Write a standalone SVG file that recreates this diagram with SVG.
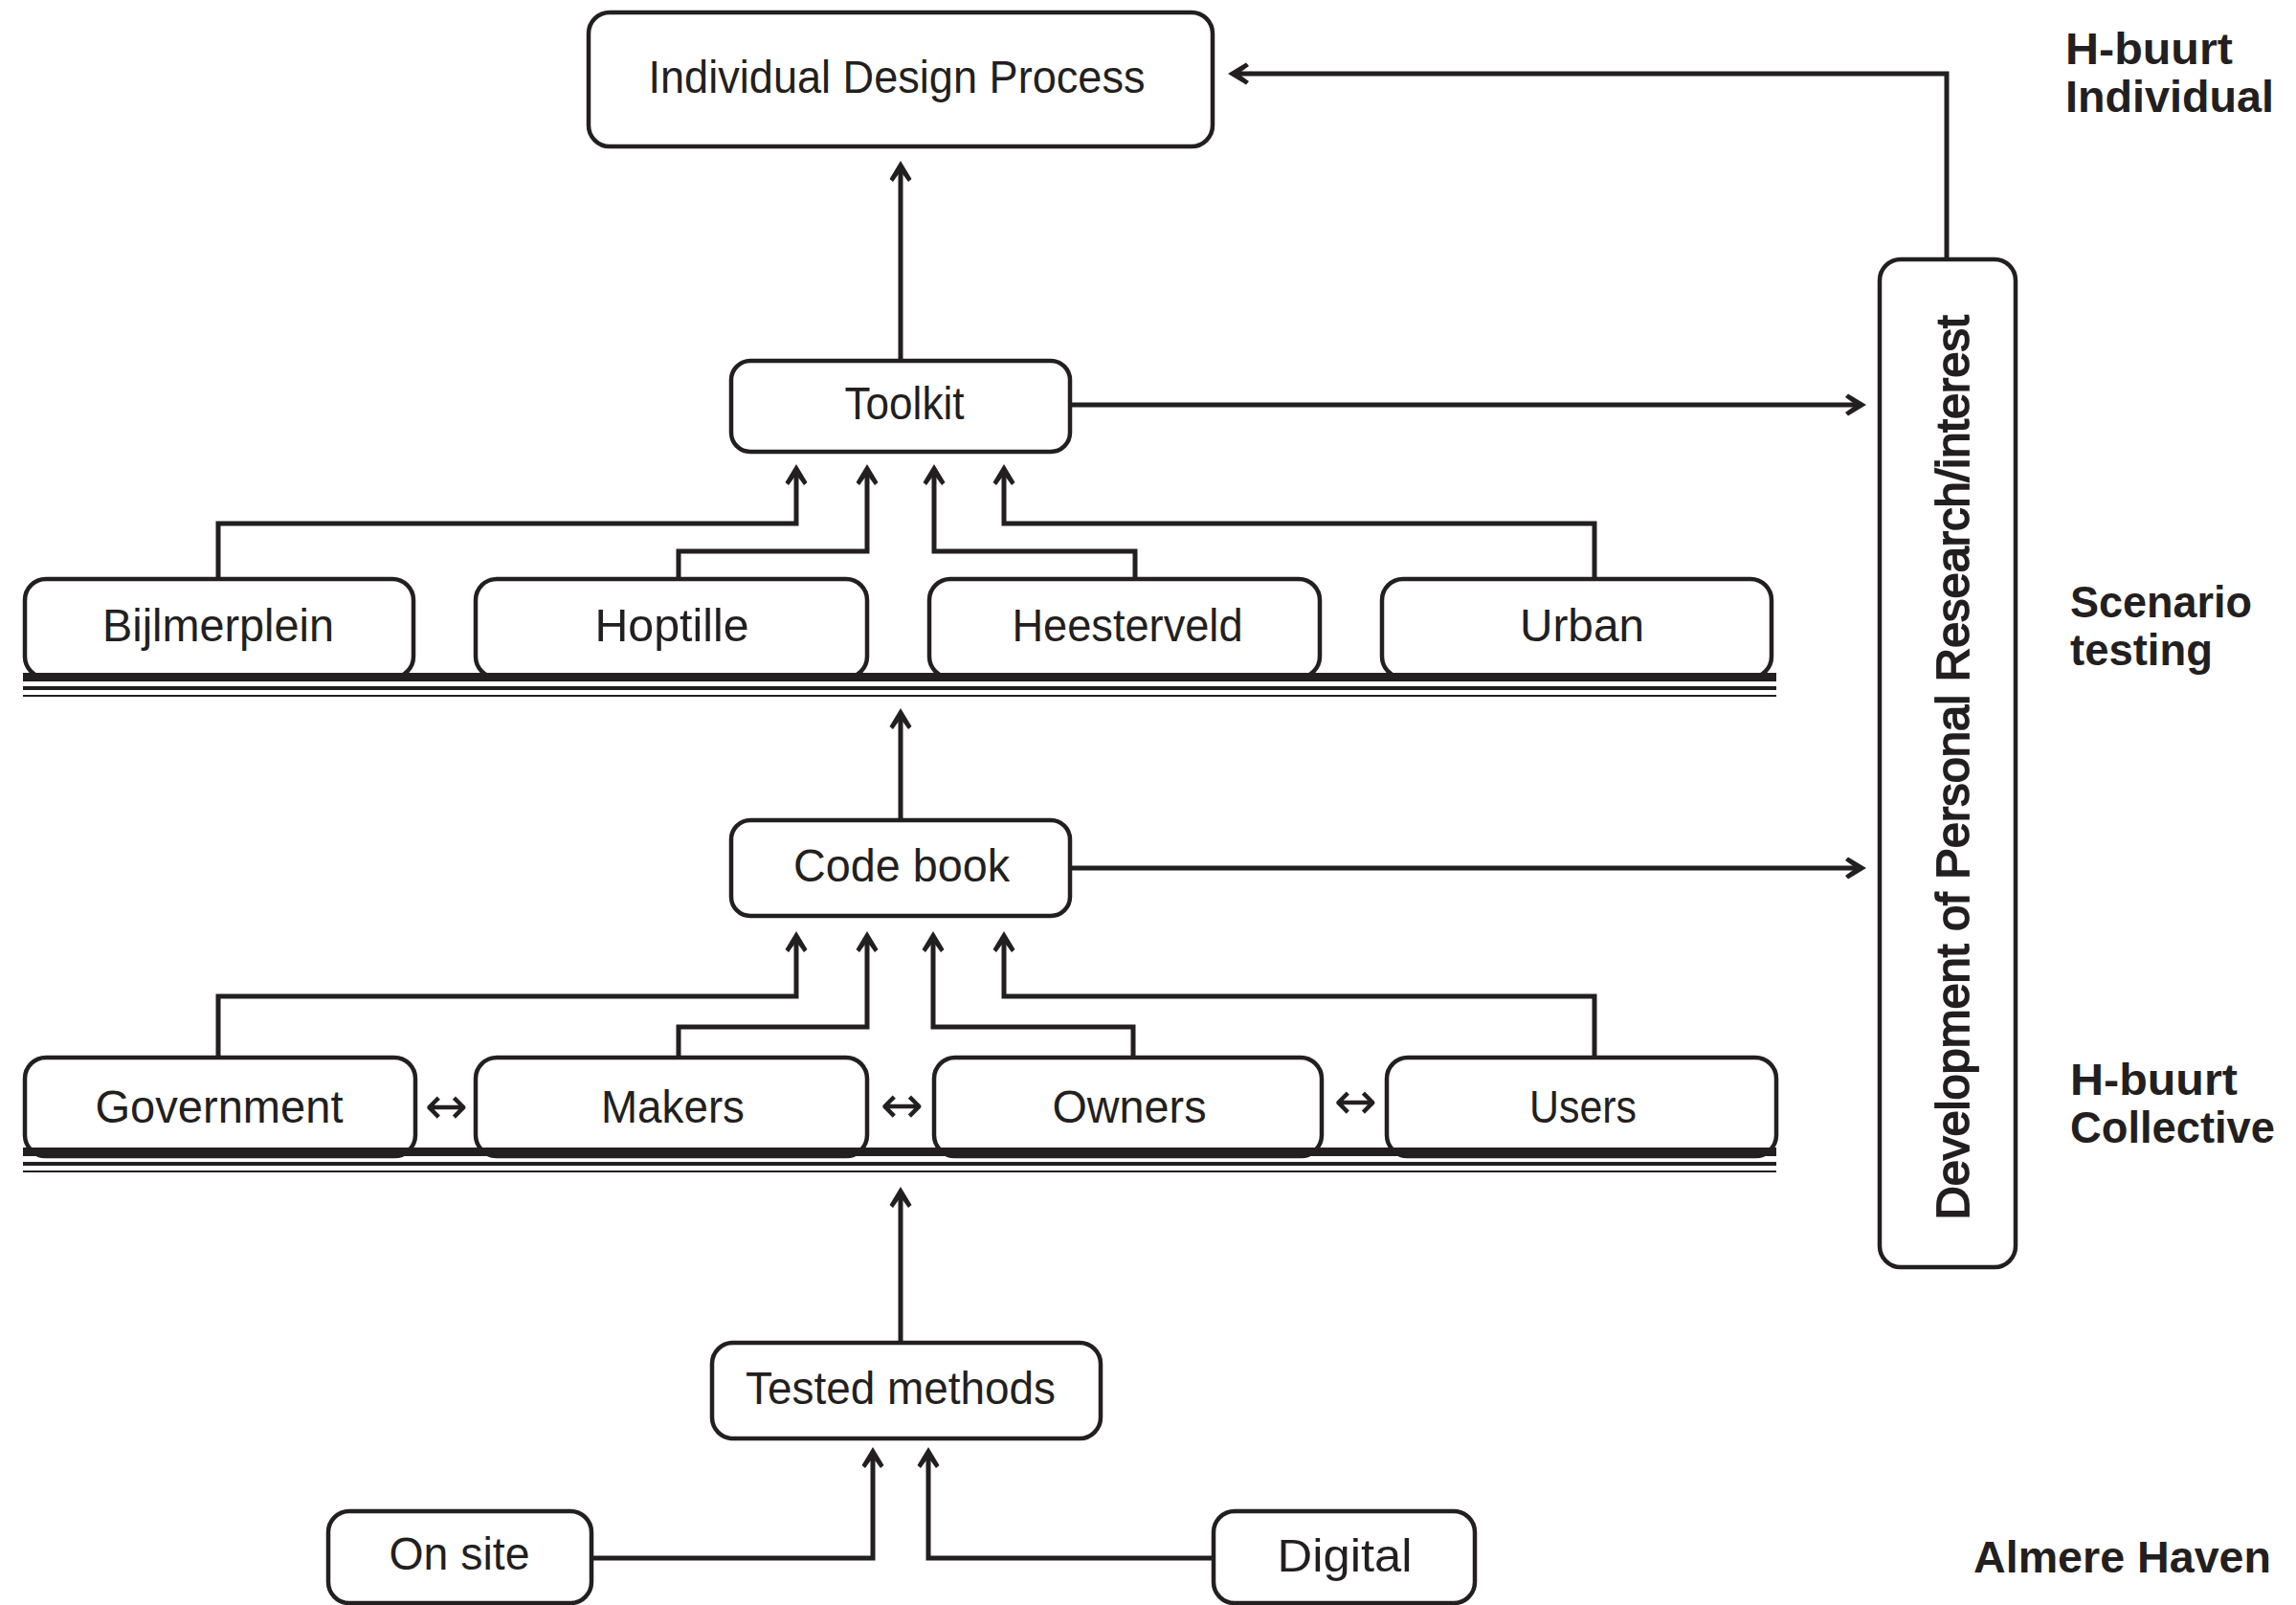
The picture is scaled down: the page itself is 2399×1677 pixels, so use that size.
<svg xmlns="http://www.w3.org/2000/svg" width="2399" height="1677" viewBox="0 0 2399 1677">
<style>
.box{fill:#fff;stroke:#231f20;stroke-width:4.5}
.lbl{font-family:"Liberation Sans",Arial,sans-serif;font-size:48px;fill:#231f20;text-anchor:middle}
.hdr{font-family:"Liberation Sans",Arial,sans-serif;font-size:47px;font-weight:bold;fill:#231f20}
.con{fill:none;stroke:#231f20;stroke-width:5;marker-end:url(#ah)}
.bar{fill:#231f20}
.bi{font-family:"DejaVu Sans","Liberation Sans",sans-serif;font-size:54px;fill:#231f20;text-anchor:middle}
</style>
<defs>
<marker id="ah" markerUnits="userSpaceOnUse" markerWidth="30" markerHeight="30" refX="-8" refY="0" orient="auto" overflow="visible">
<path d="M0,0 L-19,-11.5 L-22,-8 L-11,0 L-22,8 L-19,11.5 Z" fill="#231f20"/>
</marker>
</defs>
<rect width="2399" height="1677" fill="#fff"/>

<g id="connectors">
<path class="con" d="M941,377 V176"/>
<path class="con" d="M2034,271 V77 H1291"/>
<path class="con" d="M1118,423 H1942"/>
<path class="con" d="M1118,907 H1942"/>
<path class="con" d="M941,857 V748"/>
<path class="con" d="M941,1403 V1248"/>
<path class="con" d="M228,605 V547 H832 V493"/>
<path class="con" d="M709,605 V576 H906 V493"/>
<path class="con" d="M1186,605 V576 H976 V493"/>
<path class="con" d="M1666,605 V547 H1049 V493"/>
<path class="con" d="M228,1105 V1041 H832 V981"/>
<path class="con" d="M709,1105 V1073 H906 V981"/>
<path class="con" d="M1184,1105 V1073 H975 V981"/>
<path class="con" d="M1666,1105 V1041 H1049 V981"/>
<path class="con" d="M617,1628 H912 V1520"/>
<path class="con" d="M1268,1628 H970 V1520"/>
</g>

<g id="idp">
<rect class="box" x="615" y="13" width="652" height="140" rx="22"/>
<text class="lbl" x="937" y="97" font-size="51" textLength="519" lengthAdjust="spacingAndGlyphs">Individual Design Process</text>
</g>
<g id="toolkit">
<rect class="box" x="764" y="377" width="354" height="95" rx="20"/>
<text class="lbl" x="945" y="438" textLength="125" lengthAdjust="spacingAndGlyphs">Toolkit</text>
</g>
<g id="bijlmerplein">
<rect class="box" x="26" y="605" width="406" height="103" rx="22"/>
<text class="lbl" x="228" y="670" textLength="242" lengthAdjust="spacingAndGlyphs">Bijlmerplein</text>
</g>
<g id="hoptille">
<rect class="box" x="497" y="605" width="409" height="103" rx="22"/>
<text class="lbl" x="702" y="670" textLength="161" lengthAdjust="spacingAndGlyphs">Hoptille</text>
</g>
<g id="heesterveld">
<rect class="box" x="971" y="605" width="408" height="103" rx="22"/>
<text class="lbl" x="1178" y="670" textLength="241" lengthAdjust="spacingAndGlyphs">Heesterveld</text>
</g>
<g id="urban">
<rect class="box" x="1444" y="605" width="407" height="103" rx="22"/>
<text class="lbl" x="1653" y="670" textLength="130" lengthAdjust="spacingAndGlyphs">Urban</text>
</g>
<g id="scenario-bars">
<rect class="bar" x="24" y="703" width="1832" height="9"/>
<rect class="bar" x="24" y="717" width="1832" height="4"/>
<rect class="bar" x="24" y="726" width="1832" height="2"/>
</g>

<g id="codebook">
<rect class="box" x="764" y="857" width="354" height="100" rx="20"/>
<text class="lbl" x="942" y="921" textLength="226" lengthAdjust="spacingAndGlyphs">Code book</text>
</g>
<g id="government">
<rect class="box" x="26" y="1105" width="408" height="103" rx="22"/>
<text class="lbl" x="229" y="1173" textLength="259" lengthAdjust="spacingAndGlyphs">Government</text>
</g>
<g id="makers">
<rect class="box" x="497" y="1105" width="409" height="103" rx="22"/>
<text class="lbl" x="703" y="1173" textLength="150" lengthAdjust="spacingAndGlyphs">Makers</text>
</g>
<g id="owners">
<rect class="box" x="976" y="1105" width="405" height="103" rx="22"/>
<text class="lbl" x="1180" y="1173" textLength="161" lengthAdjust="spacingAndGlyphs">Owners</text>
</g>
<g id="users">
<rect class="box" x="1449" y="1105" width="407" height="103" rx="22"/>
<text class="lbl" x="1654" y="1173" textLength="112" lengthAdjust="spacingAndGlyphs">Users</text>
</g>
<g id="bidirectional">
<text class="bi" x="466" y="1174">↔</text>
<text class="bi" x="942" y="1173">↔</text>
<text class="bi" x="1416" y="1169">↔</text>
</g>
<g id="collective-bars">
<rect class="bar" x="24" y="1199" width="1832" height="9"/>
<rect class="bar" x="24" y="1214" width="1832" height="4"/>
<rect class="bar" x="24" y="1223" width="1832" height="2"/>
</g>

<g id="tested">
<rect class="box" x="744" y="1403" width="406" height="100" rx="22"/>
<text class="lbl" x="941" y="1467" textLength="324" lengthAdjust="spacingAndGlyphs">Tested methods</text>
</g>
<g id="onsite">
<rect class="box" x="343" y="1579" width="275" height="96" rx="22"/>
<text class="lbl" x="480" y="1640" textLength="147" lengthAdjust="spacingAndGlyphs">On site</text>
</g>
<g id="digital">
<rect class="box" x="1268" y="1579" width="273" height="96" rx="22"/>
<text class="lbl" x="1405" y="1642" textLength="141" lengthAdjust="spacingAndGlyphs">Digital</text>
</g>

<g id="research">
<rect class="box" x="1964" y="271" width="142" height="1053" rx="22"/>
<text class="lbl" transform="translate(2057,802) rotate(-90)" x="0" y="0" font-size="50" stroke="#231f20" stroke-width="1.8" textLength="945" lengthAdjust="spacingAndGlyphs">Development of Personal Research/interest</text>
</g>

<g id="level-labels">
<text class="hdr" x="2158" y="67" textLength="175" lengthAdjust="spacingAndGlyphs">H-buurt</text>
<text class="hdr" x="2158" y="117" textLength="218" lengthAdjust="spacingAndGlyphs">Individual</text>
<text class="hdr" x="2163" y="645" textLength="190" lengthAdjust="spacingAndGlyphs">Scenario</text>
<text class="hdr" x="2163" y="695" textLength="149" lengthAdjust="spacingAndGlyphs">testing</text>
<text class="hdr" x="2163" y="1144" textLength="175" lengthAdjust="spacingAndGlyphs">H-buurt</text>
<text class="hdr" x="2163" y="1194" textLength="214" lengthAdjust="spacingAndGlyphs">Collective</text>
<text class="hdr" x="2062" y="1643" textLength="311" lengthAdjust="spacingAndGlyphs">Almere Haven</text>
</g>
</svg>
